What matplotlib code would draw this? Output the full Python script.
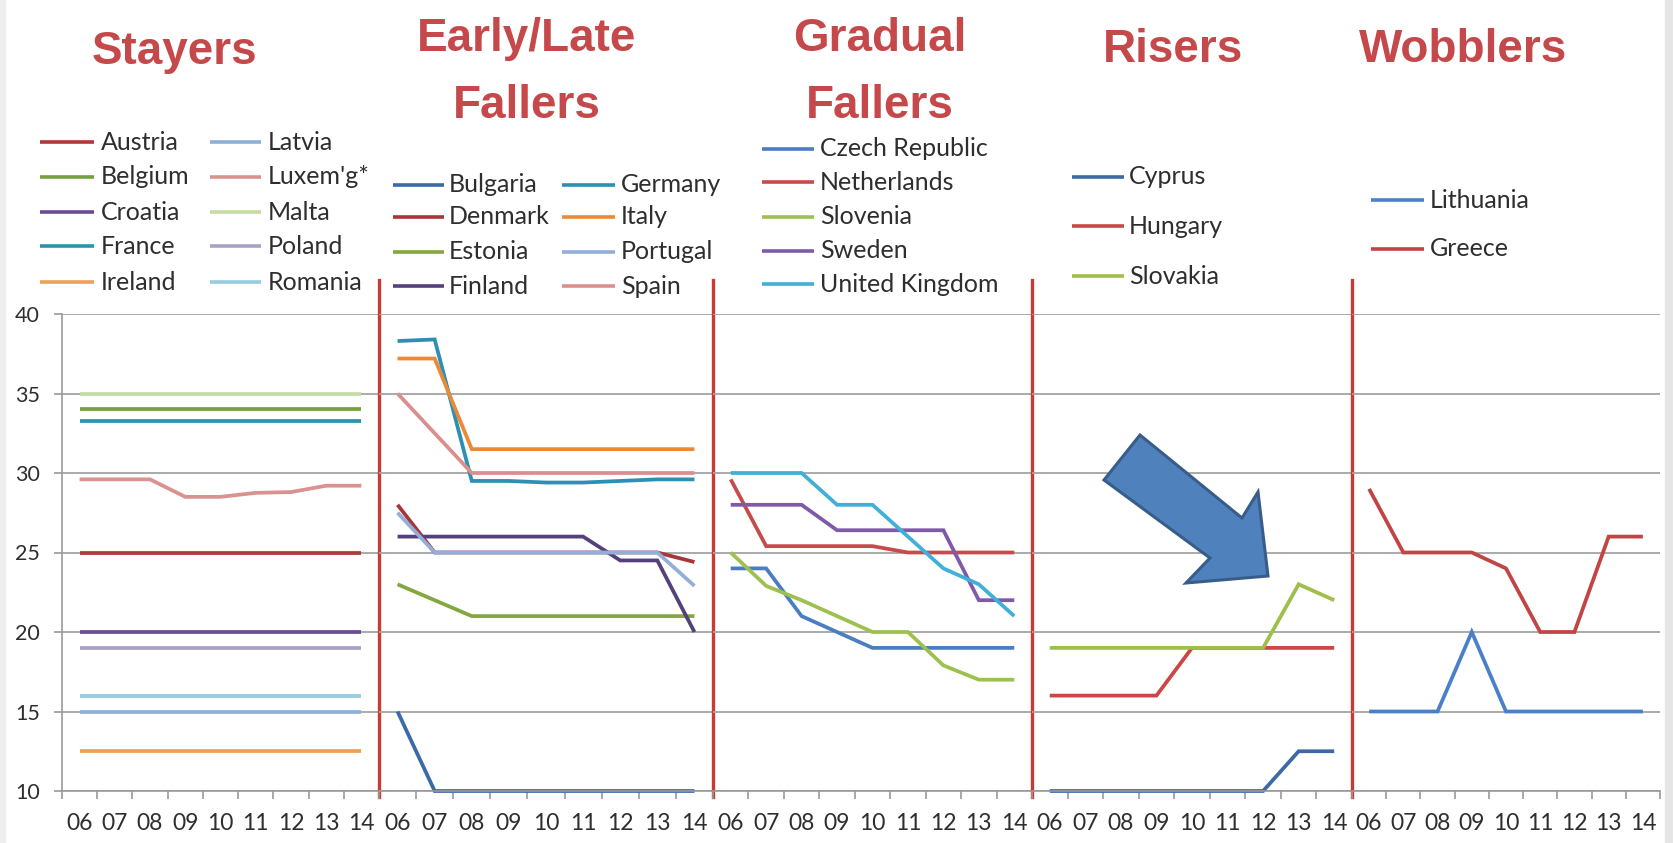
import matplotlib
matplotlib.use("Agg")
import matplotlib.pyplot as plt
from matplotlib import font_manager
from matplotlib.lines import Line2D
from matplotlib.patches import Polygon, Rectangle

YEARS = ["06", "07", "08", "09", "10", "11", "12", "13", "14"]

# Stayers
STAYERS = ["Austria", "Belgium", "Croatia", "France", "Ireland",
           "Latvia", "Luxem'g*", "Malta", "Poland", "Romania"]
AUSTRIA = [25, 25, 25, 25, 25, 25, 25, 25, 25]
BELGIUM = [34, 34, 34, 34, 34, 34, 34, 34, 34]
CROATIA = [20, 20, 20, 20, 20, 20, 20, 20, 20]
FRANCE = [33.3, 33.3, 33.3, 33.3, 33.3, 33.3, 33.3, 33.3, 33.3]
IRELAND = [12.5, 12.5, 12.5, 12.5, 12.5, 12.5, 12.5, 12.5, 12.5]
LATVIA = [15, 15, 15, 15, 15, 15, 15, 15, 15]
LUXEMBOURG = [29.6, 29.6, 29.6, 28.5, 28.5, 28.75, 28.8, 29.2, 29.2]
MALTA = [35, 35, 35, 35, 35, 35, 35, 35, 35]
POLAND = [19, 19, 19, 19, 19, 19, 19, 19, 19]
ROMANIA = [16, 16, 16, 16, 16, 16, 16, 16, 16]
STAYERS_VALUES = [AUSTRIA, BELGIUM, CROATIA, FRANCE, IRELAND,
                  LATVIA, LUXEMBOURG, MALTA, POLAND, ROMANIA]
STAYERS_COLORS = ["#AD3A38", "#76A03E", "#6A4C95", "#2D92AC", "#F0A052",
                  "#8CB0D8", "#D99290", "#C6DAA4", "#ABA0C6", "#96CCE0"]

# Early/Late Fallers
EARLY_LATE = ["Bulgaria", "Denmark", "Estonia", "Finland",
              "Germany", "Italy", "Portugal", "Spain"]
BULGARIA = [15, 10, 10, 10, 10, 10, 10, 10, 10]
DENMARK = [28, 25, 25, 25, 25, 25, 25, 25, 24.4]
ESTONIA = [23, 22, 21, 21, 21, 21, 21, 21, 21]
FINLAND = [26, 26, 26, 26, 26, 26, 24.5, 24.5, 20]
GERMANY = [38.3, 38.4, 29.5, 29.5, 29.4, 29.4, 29.5, 29.6, 29.6]
ITALY = [37.2, 37.2, 31.5, 31.5, 31.5, 31.5, 31.5, 31.5, 31.5]
PORTUGAL = [27.5, 25, 25, 25, 25, 25, 25, 25, 22.9]
SPAIN = [35, 32.5, 30, 30, 30, 30, 30, 30, 30]
EARLY_LATE_VALUES = [BULGARIA, DENMARK, ESTONIA, FINLAND,
                     GERMANY, ITALY, PORTUGAL, SPAIN]
EARLY_LATE_COLORS = ["#3C6AA8", "#A6363A", "#84A840", "#54407A",
                     "#2C8FB4", "#EB8A36", "#93AED8", "#DB8E8E"]

# Gradual Fallers
GRADUAL = ["Czech Republic", "Netherlands", "Slovenia", "Sweden", "United Kingdom"]
CZECH = [24, 24, 21, 20, 19, 19, 19, 19, 19]
NETHERLANDS = [29.6, 25.4, 25.4, 25.4, 25.4, 25, 25, 25, 25]
SLOVENIA = [25, 22.9, 22, 21, 20, 20, 17.9, 17, 17]
SWEDEN = [28, 28, 28, 26.4, 26.4, 26.4, 26.4, 22, 22]
UK = [30, 30, 30, 28, 28, 26, 24, 23, 21]
GRADUAL_VALUES = [CZECH, NETHERLANDS, SLOVENIA, SWEDEN, UK]
GRADUAL_COLORS = ["#4A7EC0", "#C64B4B", "#9EC04F", "#7E5AA8", "#40B0D8"]

# Risers
RISERS = ["Cyprus", "Hungary", "Slovakia"]
CYPRUS = [10, 10, 10, 10, 10, 10, 10, 12.5, 12.5]
HUNGARY = [16, 16, 16, 16, 19, 19, 19, 19, 19]
SLOVAKIA = [19, 19, 19, 19, 19, 19, 19, 23, 22]
RISERS_VALUES = [CYPRUS, HUNGARY, SLOVAKIA]
RISERS_COLORS = ["#3D6AA5", "#CC4646", "#9EBF4A"]

# Wobblers
WOBBLERS = ["Lithuania", "Greece"]
LITHUANIA = [15, 15, 15, 20, 15, 15, 15, 15, 15]
GREECE = [29, 25, 25, 25, 24, 20, 20, 26, 26]
WOBBLERS_VALUES = [LITHUANIA, GREECE]
WOBBLERS_COLORS = ["#4A80C8", "#C24444"]

TITLES = ["Stayers", "Early/Late\nFallers", "Gradual\nFallers", "Risers", "Wobblers"]
Y_TICKS = [10, 15, 20, 25, 30, 35, 40]

# ---------------------------------------------------------------- layout (px)
W, H = 1673, 843
PANEL_EDGES = [62, 379, 713, 1032, 1352, 1660]
Y_TOP, Y_BOT = 314, 791
TITLE_X = [175, 527, 880, 1173, 1463]
TITLE_BASE = [[64], [51, 118], [51, 118], [62], [62]]
# legend: per panel, list of (line_x0, line_x1, text_x, [row y ...]) per column
LEGEND_COLS = [
    [(40, 94, 101, [142, 177, 212, 246, 282]), (210, 261, 268, [142, 177, 212, 246, 282])],
    [(393, 444, 449, [185, 217, 252, 286]), (562, 615, 621, [185, 217, 252, 286])],
    [(762, 814, 820, [149, 182, 217, 251, 284])],
    [(1072, 1124, 1129, [177, 226, 276])],
    [(1371, 1424, 1430, [200, 249])],
]
ARROW_PX = [(1140, 435), (1242, 518), (1258, 492), (1268, 576),
            (1186, 583), (1210, 558), (1104, 480)]

names = {f.name for f in font_manager.fontManager.ttflist}
if "Liberation Sans Narrow" in names:
    TITLE_FONT, TITLE_SIZE = "Liberation Sans Narrow", 39
else:
    TITLE_FONT, TITLE_SIZE = "Liberation Sans", 33
TEXT_FONT = ["Lato", "DejaVu Sans"]
TITLE_RED = "#C5484A"
SEP_RED = "#C83A32"
GRID = "#A4A4A4"
TEXT = "#2E2E2E"


def fx(px):
    return px / W


def fy(py):
    return 1 - py / H


def main():
    plt.rcParams["font.family"] = TEXT_FONT
    fig = plt.figure(figsize=(W / 100, H / 100), dpi=100)
    fig.patch.set_facecolor("white")

    # faint grey slide borders
    fig.patches.append(Rectangle((fx(1665), 0), fx(8), 1, transform=fig.transFigure,
                                 color="#E6E6E6", zorder=0))
    fig.patches.append(Rectangle((0, 0), fx(5), 1, transform=fig.transFigure,
                                 color="#EEEEEE", zorder=0))

    panels = [
        (STAYERS, STAYERS_VALUES, STAYERS_COLORS),
        (EARLY_LATE, EARLY_LATE_VALUES, EARLY_LATE_COLORS),
        (GRADUAL, GRADUAL_VALUES, GRADUAL_COLORS),
        (RISERS, RISERS_VALUES, RISERS_COLORS),
        (WOBBLERS, WOBBLERS_VALUES, WOBBLERS_COLORS),
    ]
    xs = [i + 0.5 for i in range(len(YEARS))]
    for k, (labels, values, colors) in enumerate(panels):
        x0, x1 = PANEL_EDGES[k], PANEL_EDGES[k + 1]
        ax = fig.add_axes([fx(x0), fy(Y_BOT), fx(x1 - x0), (Y_BOT - Y_TOP) / H])
        ax.set_xlim(0, len(YEARS))
        ax.set_ylim(10, 40)
        ax.set_facecolor("none")
        for s in ("top", "right", "left"):
            ax.spines[s].set_visible(False)
        ax.spines["bottom"].set_color("#999999")
        ax.spines["bottom"].set_linewidth(1.2)
        ax.set_yticks(Y_TICKS)
        ax.yaxis.grid(True, color=GRID, lw=1.3)
        ax.set_axisbelow(True)
        if k == 0:
            ax.spines["left"].set_visible(True)
            ax.spines["left"].set_color("#999999")
            ax.spines["left"].set_linewidth(1.2)
            ax.tick_params(axis="y", length=6, width=1.2, color="#999999",
                           labelsize=15.5, labelcolor=TEXT, pad=10)
        else:
            ax.tick_params(axis="y", length=0, labelleft=False)
        ax.set_xticks(range(len(YEARS) + 1))
        ax.set_xticklabels([])
        ax.set_xticks(xs, minor=True)
        ax.set_xticklabels(YEARS, minor=True)
        ax.tick_params(axis="x", which="major", length=6, width=1.2, color="#999999")
        ax.tick_params(axis="x", which="minor", length=0, labelsize=16.5,
                       labelcolor=TEXT, pad=16)

        handles = []
        for lab, vals, col in zip(labels, values, colors):
            ln, = ax.plot(xs, vals, color=col, lw=2.7, solid_capstyle="butt",
                          solid_joinstyle="miter", label=lab, clip_on=False)
            handles.append(ln)

        # legend entries
        i = 0
        for lx0, lx1, tx, rows in LEGEND_COLS[k]:
            for ry in rows:
                if i >= len(handles):
                    break
                h = handles[i]
                fig.add_artist(Line2D([fx(lx0), fx(lx1)], [fy(ry), fy(ry)],
                                      transform=fig.transFigure, color=h.get_color(),
                                      lw=2.6, solid_capstyle="butt"))
                fig.text(fx(tx), fy(ry), h.get_label(), ha="left", va="center",
                         fontsize=18, color=TEXT)
                i += 1

        # title
        for line, base in zip(TITLES[k].split("\n"), TITLE_BASE[k]):
            fig.text(fx(TITLE_X[k]), fy(base), line, ha="center", va="baseline",
                     fontsize=TITLE_SIZE, fontweight="bold", color=TITLE_RED,
                     family=TITLE_FONT)

        # red separator on the right edge of the first four panels
        if k < 4:
            ax.axvline(len(YEARS), ymin=-(797 - Y_BOT) / (Y_BOT - Y_TOP),
                       ymax=(Y_BOT - 280) / (Y_BOT - Y_TOP), color=SEP_RED,
                       lw=2.4, clip_on=False, zorder=5)

    # highlight arrow in the Risers panel
    fig.patches.append(Polygon([(fx(a), fy(b)) for a, b in ARROW_PX], closed=True,
                               transform=fig.transFigure, facecolor="#4F81BD",
                               edgecolor="#385D8A", lw=2.2, zorder=10))

    fig.savefig("out.png", dpi=100, facecolor="white")


if __name__ == "__main__":
    main()
